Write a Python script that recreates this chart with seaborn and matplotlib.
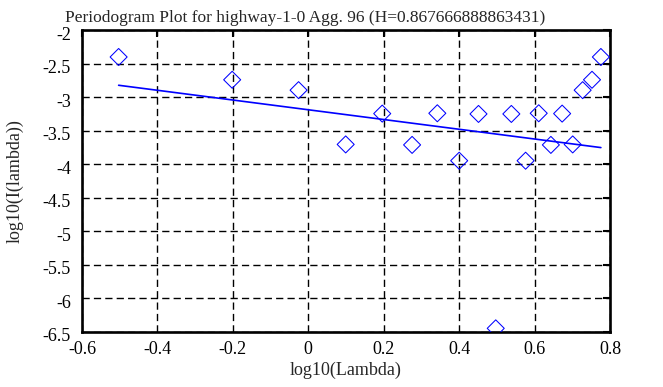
"""
Periodogram plot (log-log) with fitted line, gnuplot look.

Output:
    out.png
"""

import matplotlib
matplotlib.use("Agg")
import matplotlib.pyplot as plt
import matplotlib.transforms as mtransforms
import pandas as pd
import seaborn as sns


TITLE = "Periodogram Plot for highway-1-0 Agg. 96 (H=0.867666888863431)"

log_lambda = [
    -0.5029, -0.2018, -0.0257, 0.0992, 0.1961, 0.2753, 0.3422, 0.4002,
    0.4514, 0.4971, 0.5385, 0.5763, 0.6111, 0.6433, 0.6732, 0.7012,
    0.7276, 0.7524, 0.7759,
]
log_power = [
    -2.40, -2.74, -2.895, -3.705, -3.245, -3.712, -3.24, -3.948,
    -3.25, -6.45, -3.25, -3.948, -3.24, -3.712, -3.245, -3.705,
    -2.895, -2.74, -2.40,
]

# fitted line end points (slope = 1 - 2H)
fit_x = [-0.5029, 0.7759]
fit_y = [-2.822, -3.752]

x_ticks = [-0.6, -0.4, -0.2, 0.0, 0.2, 0.4, 0.6, 0.8]
x_tick_labels = ["-0.6", "-0.4", "-0.2", "0", "0.2", "0.4", "0.6", "0.8"]
y_ticks = [-6.5, -6, -5.5, -5, -4.5, -4, -3.5, -3, -2.5, -2]
y_tick_labels = ["-6.5", "-6", "-5.5", "-5", "-4.5", "-4", "-3.5", "-3", "-2.5", "-2"]


def main() -> None:
    df = pd.DataFrame({"x": log_lambda, "y": log_power})
    fit = pd.DataFrame({"x": fit_x, "y": fit_y})

    sns.set_theme(style="white")
    plt.rcParams["font.family"] = ["Liberation Serif", "DejaVu Serif"]

    fig = plt.figure(figsize=(6.63, 3.87), dpi=100)
    ax = fig.add_axes([0.1237, 0.1429, 0.7963, 0.7791])

    sns.lineplot(data=fit, x="x", y="y", color="#0000ff", linewidth=1.2, ax=ax, zorder=3)
    sns.scatterplot(
        data=df, x="x", y="y", marker="D", s=75,
        facecolor="none", edgecolor="#0000ff", linewidth=0.75, ax=ax, zorder=4,
    )

    ax.set_xlim(-0.6, 0.8)
    ax.set_ylim(-6.5, -2)
    ax.set_xticks(x_ticks, x_tick_labels)
    ax.set_yticks(y_ticks, y_tick_labels)
    ax.grid(True, color="black", linestyle=(0, (5.2, 3.0)), linewidth=1.0)
    ax.tick_params(direction="in", length=5, width=1.5, top=True, right=True,
                   labelsize=13, colors="black")
    ax.tick_params(axis="y", pad=8)
    ax.tick_params(axis="x", pad=7)
    for spine in ax.spines.values():
        spine.set_color("black")
        spine.set_linewidth(1.9)

    # gnuplot puts the y labels a touch below their tick
    shift = mtransforms.ScaledTranslation(0, -3 / 100, fig.dpi_scale_trans)
    for label in ax.get_yticklabels():
        label.set_transform(label.get_transform() + shift)

    ax.set_xlabel("log10(Lambda)", fontsize=13, labelpad=2)
    ax.set_ylabel("log10(I(lambda))", fontsize=13, labelpad=14)
    ax.set_title(TITLE, fontsize=12.5, pad=6, x=0.422)

    fig.savefig("out.png", dpi=100)
    plt.close(fig)


if __name__ == "__main__":
    main()
